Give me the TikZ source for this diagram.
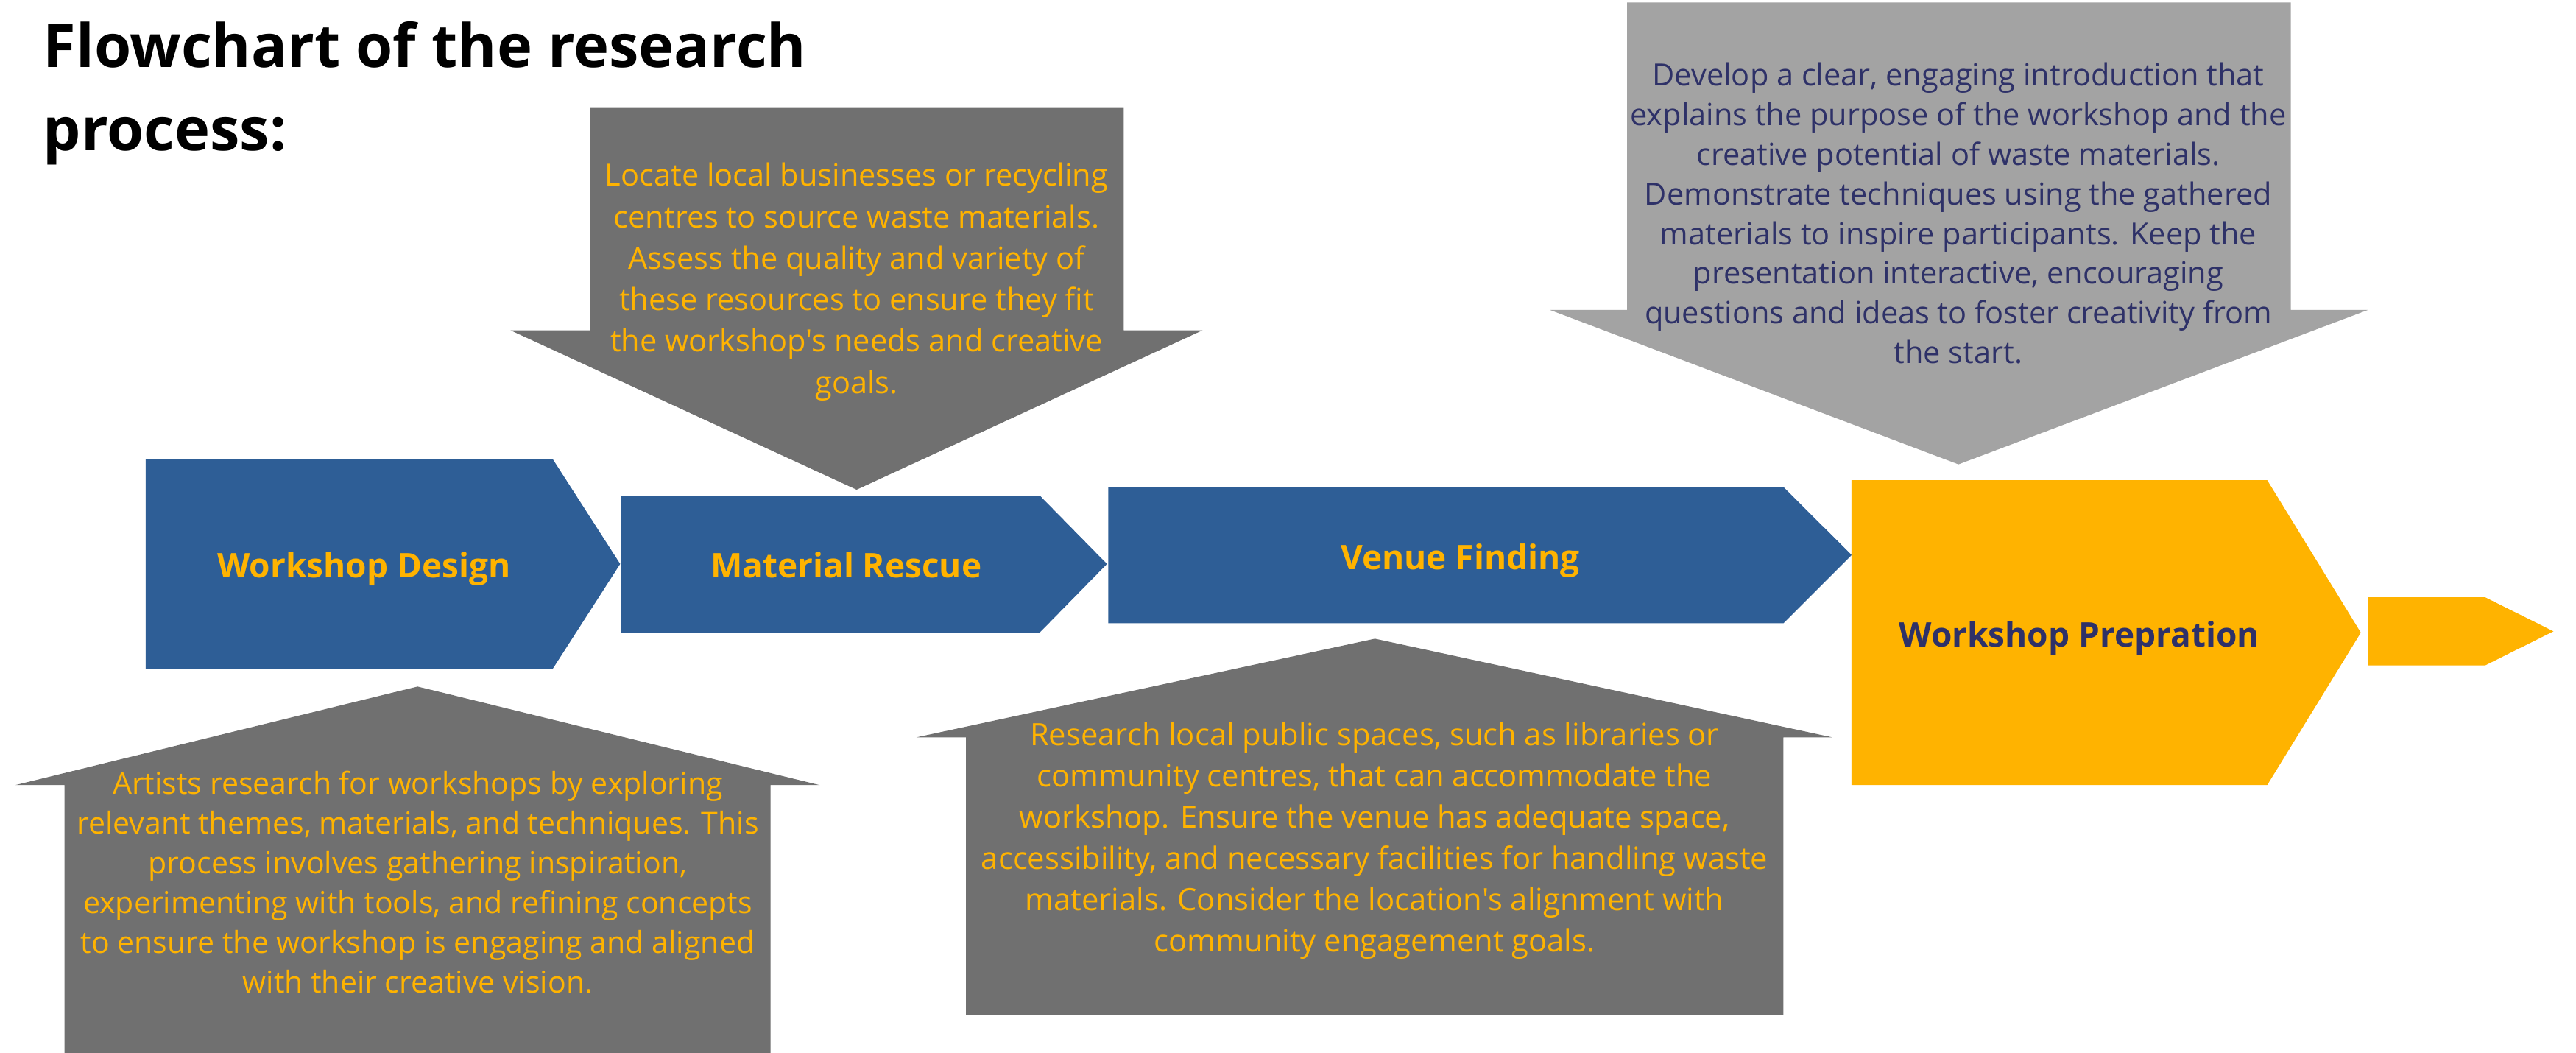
\documentclass[tikz,border=0pt]{standalone}
\usepackage{fontspec}
\setmainfont{Open Sans}[Ligatures=TeXOff]
\definecolor{blu}{HTML}{2E5E96}
\definecolor{dgray}{HTML}{707070}
\definecolor{lgray}{HTML}{A3A3A3}
\definecolor{yel}{HTML}{FFB300}
\definecolor{navy}{HTML}{2E3168}
\tikzset{
  steplabel/.style={font=\bfseries\fontsize{20.6}{25}\selectfont, inner sep=0pt, anchor=base},
  desc/.style={align=center, inner sep=0pt, anchor=base},
}
\begin{document}
\begin{tikzpicture}[x=1pt,y=-1pt]
\useasboundingbox[fill=white] (0,0) rectangle (1568,640.4);
% title (anchor base = baseline of last line)
\node[anchor=base west, align=left, inner sep=0pt, font=\bfseries\fontsize{36.4}{50.9}\selectfont] (title) at (26.1,91.8) {Flowchart of the research\\process:};
% down arrows
\fill[dgray] (359,65.3) -- (684,65.3) -- (684,201) -- (732,201) -- (521.4,298) -- (310.7,201) -- (359,201) -- cycle;
\fill[lgray] (990.4,1.5) -- (1394.4,1.5) -- (1394.4,188.6) -- (1441.4,188.6) -- (1192.1,282.6) -- (943.4,188.6) -- (990.4,188.6) -- cycle;
% up arrows
\fill[dgray] (254.2,417.8) -- (498.9,477.8) -- (469,477.8) -- (469,641) -- (39.3,641) -- (39.3,477.8) -- (9.3,477.8) -- cycle;
\fill[dgray] (836.9,388.7) -- (1115.2,448.7) -- (1085.5,448.7) -- (1085.5,617.8) -- (588,617.8) -- (588,448.7) -- (557.9,448.7) -- cycle;
% chevrons
\fill[blu] (88.7,279.5) -- (336.5,279.5) -- (377.5,343.2) -- (336.5,406.9) -- (88.7,406.9) -- cycle;
\fill[blu] (378.2,301.6) -- (632.9,301.6) -- (673.8,343.2) -- (632.9,384.9) -- (378.2,384.9) -- cycle;
\fill[blu] (674.6,296.3) -- (1085.5,296.3) -- (1127.1,337.8) -- (1085.5,379.3) -- (674.6,379.3) -- cycle;
\fill[yel] (1127,292.2) -- (1380,292.2) -- (1437,385) -- (1380,477.8) -- (1127,477.8) -- cycle;
\fill[yel] (1441.6,363.5) -- (1512.7,363.5) -- (1554.3,384.2) -- (1512.7,404.9) -- (1441.6,404.9) -- cycle;
% labels
\node[steplabel, text=yel] (wd) at (221.5,351.5) {Workshop Design};
\node[steplabel, text=yel] (mr) at (515,351.5) {Material Rescue};
\node[steplabel, text=yel] (vf) at (888.8,346.5) {Venue Finding};
\node[steplabel, text=navy] (wp) at (1265.6,393.8) {Workshop Prepration};
% descriptions (anchor base = baseline of last line)
\node[desc, text=yel, font=\fontsize{18.6}{25.2}\selectfont] (mrd) at (521.4,239.3) {Locate local businesses or recycling\\centres to source waste materials.\\Assess the quality and variety of\\these resources to ensure they fit\\the workshop's needs and creative\\goals.};
\node[desc, text=navy, font=\fontsize{18.6}{24.1}\selectfont] (wpd) at (1192,221.1) {Develop a clear, engaging introduction that\\explains the purpose of the workshop and the\\creative potential of waste materials.\\Demonstrate techniques using the gathered\\materials to inspire participants. Keep the\\presentation interactive, encouraging\\questions and ideas to foster creativity from\\the start.};
\node[desc, text=yel, font=\fontsize{18.4}{24.2}\selectfont] (wdd) at (254.3,604.2) {Artists research for workshops by exploring\\relevant themes, materials, and techniques. This\\process involves gathering inspiration,\\experimenting with tools, and refining concepts\\to ensure the workshop is engaging and aligned\\with their creative vision.};
\node[desc, text=yel, font=\fontsize{18.7}{25.1}\selectfont] (vfd) at (836.7,579.2) {Research local public spaces, such as libraries or\\community centres, that can accommodate the\\workshop. Ensure the venue has adequate space,\\accessibility, and necessary facilities for handling waste\\materials. Consider the location's alignment with\\community engagement goals.};
\end{tikzpicture}
\end{document}
